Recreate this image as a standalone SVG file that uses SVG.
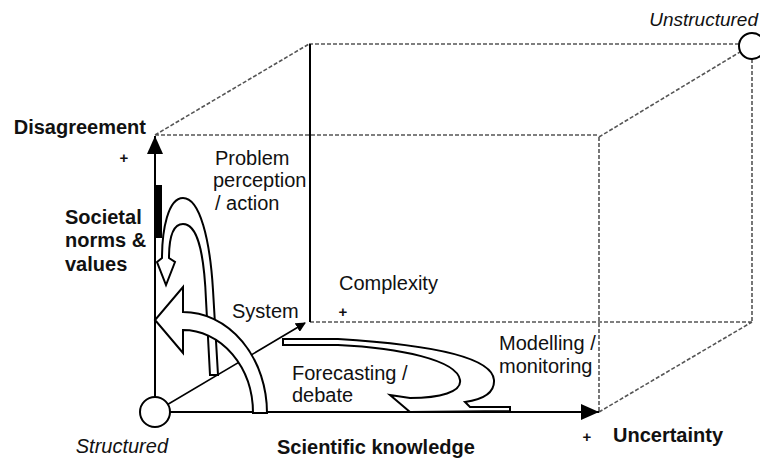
<svg xmlns="http://www.w3.org/2000/svg" width="760" height="461" viewBox="0 0 760 461">
<style>
.dash{stroke:#555;stroke-width:1.6;stroke-dasharray:4 2;fill:none}
.solid{stroke:#000;stroke-width:2;fill:none}
.blk{fill:#fff;stroke:#000;stroke-width:2;stroke-linejoin:miter}
text{font-family:"Liberation Sans",Arial,sans-serif;font-size:20px;fill:#111}
.b{font-weight:bold}
.i{font-style:italic}
.pl{font-weight:bold;font-size:15px;text-anchor:middle}
</style>
<defs>
<marker id="ah" markerWidth="10" markerHeight="10" refX="9" refY="5" orient="auto" markerUnits="userSpaceOnUse" viewBox="0 0 10 10">
<path d="M0,0 L10,5 L0,10 Z" fill="#000"/>
</marker>
<marker id="ahb" markerWidth="18" markerHeight="16" refX="18" refY="8" orient="auto" markerUnits="userSpaceOnUse" viewBox="0 0 18 16">
<path d="M0,0 L18,8 L0,16 Z" fill="#000"/>
</marker>
</defs>
<g id="cube">
<path class="dash" d="M155,135 L309,44 M309,44 H739 M599,137 V412 M155,135 H599 M599,137 L740,52 M752,59 V322 M310,322 H752 M599,412 L752,322"/>
<line class="solid" x1="310" y1="44" x2="310" y2="322"/>
</g>
<g id="connectors">
<line class="solid" x1="155" y1="412" x2="155" y2="136" marker-end="url(#ahb)"/>
<line class="solid" x1="155" y1="412" x2="599" y2="412" marker-end="url(#ahb)"/>
<line x1="160" y1="409" x2="305" y2="323" stroke="#000" stroke-width="1.6" marker-end="url(#ah)"/>
<rect x="156" y="185" width="6" height="53" fill="#000"/>
</g>
<g id="node-structured">
<circle cx="155" cy="412" r="15" fill="#fff" stroke="#000" stroke-width="2"/>
<text class="i" x="168" y="453" text-anchor="end" font-size="19">Structured</text>
</g>
<g id="node-unstructured">
<circle cx="752" cy="46" r="13" fill="#fff" stroke="#000" stroke-width="2"/>
<text class="i" x="758" y="26" text-anchor="end" style="font-size:19px">Unstructured</text>
</g>
<g id="arrow-problem">
<path class="blk" d="M210,375 L206,300 C204,250 197,224 183,224 C172,224 169,240 169,258 L175,262 L166,285 L157,262 L162,258 C162,230 168,198 183,198 C200,198 210,240 213,290 L218,375 Z"/>
</g>
<g id="arrow-societal">
<path class="blk" d="M253,413 A70,83 0 0 0 183,330 L183,353 L155,320 L183,287 L183,312 A84,101 0 0 1 267,413 Z"/>
</g>
<g id="arrow-forecasting">
<path class="blk" d="M283,339 L338,339 C420,344 492,355 494,380 C495,395 480,400 465,402 L470,407 L510,407 L510,411 L410,412 L390,395 L410,398 C440,398 462,392 460,380 C457,360 400,348 338,345 L283,345 Z"/>
</g>
<g id="labels">
<text class="b" x="146" y="134" text-anchor="end">Disagreement</text>
<text class="pl" x="124" y="163">+</text>
<text x="215" y="165">Problem</text>
<text x="213" y="187">perception</text>
<text x="215" y="210">/ action</text>
<text class="b" x="65" y="224">Societal</text>
<text class="b" x="65" y="247">norms &amp;</text>
<text class="b" x="65" y="271">values</text>
<text x="339" y="290">Complexity</text>
<text class="pl" x="343" y="317">+</text>
<text x="232" y="318">System</text>
<text x="499" y="350">Modelling /</text>
<text x="499" y="373">monitoring</text>
<text x="292" y="380">Forecasting /</text>
<text x="292" y="402">debate</text>
<text class="b" x="277" y="454">Scientific knowledge</text>
<text class="pl" x="587" y="442">+</text>
<text class="b" x="613" y="442">Uncertainty</text>
</g>
</svg>
